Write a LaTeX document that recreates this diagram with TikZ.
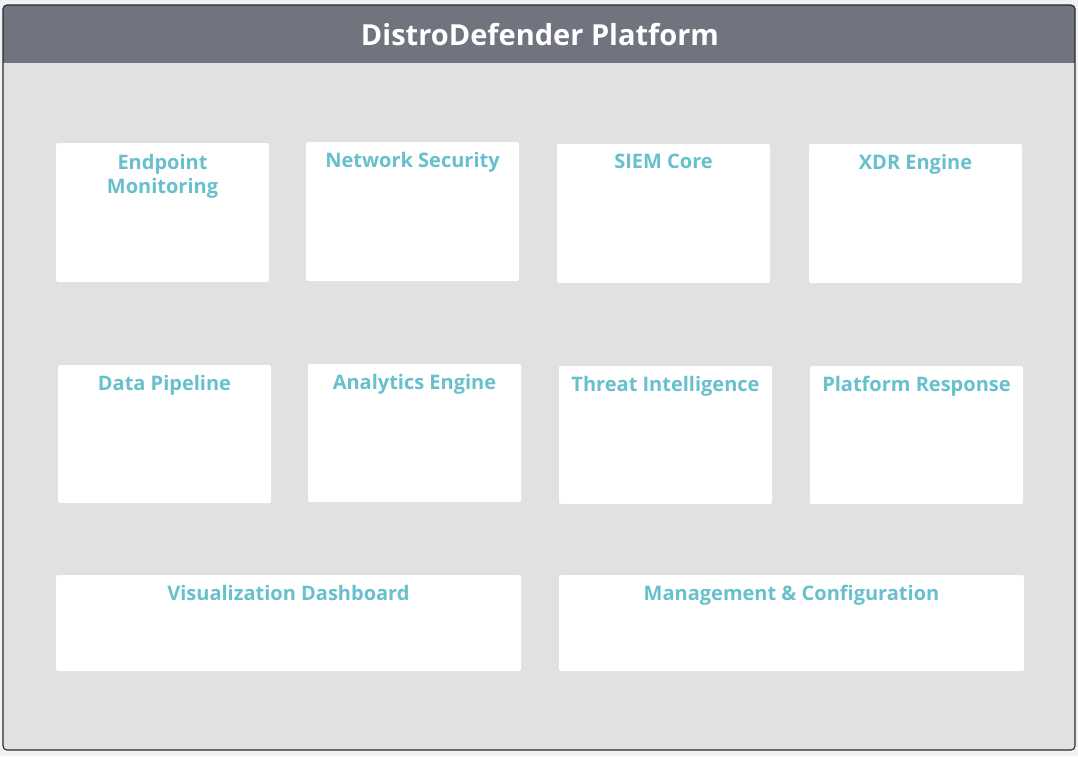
\documentclass[tikz,border=0pt]{standalone}
\usepackage{fontspec}
\setmainfont{Open Sans}
\definecolor{pagebg}{HTML}{F1F2F4}
\definecolor{bodybg}{HTML}{E1E1E1}
\definecolor{headbg}{HTML}{71747F}
\definecolor{framec}{HTML}{2A2A2A}
\definecolor{labelc}{HTML}{67C0CC}
\tikzset{
  panel/.style={fill=white, rounded corners=2pt, draw=none},
  paneltitle/.style={text=labelc, font=\bfseries\fontsize{20}{24.5}\selectfont, align=center, anchor=north, inner sep=0pt},
}
\begin{document}
\begin{tikzpicture}[x=1pt,y=-1pt]
  \useasboundingbox[fill=pagebg] (0,0) rectangle (1078,756);
  % outer frame
  \fill[bodybg, rounded corners=4pt] (3,5) rectangle (1075,750);
  \fill[headbg, rounded corners=4pt] (3,5) rectangle (1075,40);
  \fill[headbg] (3,30) rectangle (1075,63);
  \draw[framec, line width=1.1pt, rounded corners=4pt] (3,5) rectangle (1075,750);
  \node[text=white, font=\bfseries\fontsize{29}{34}\selectfont] (title) at (540,35) {DistroDefender Platform};

  % first row
  \fill[panel] (56,143) rectangle (269,282);
  \node[paneltitle] (epl) at (162.5,154) {Endpoint\\Monitoring};
  \fill[panel] (306,142) rectangle (519,281);
  \node[paneltitle] (nsl) at (412.5,152) {Network Security};
  \fill[panel] (557,144) rectangle (770,283);
  \node[paneltitle] (siem) at (663.5,154) {SIEM Core};
  \fill[panel] (809,144) rectangle (1022,283);
  \node[paneltitle] (xdr) at (915.5,154) {XDR Engine};

  % second row
  \fill[panel] (58,365) rectangle (271,503);
  \node[paneltitle] (dp) at (164.5,375) {Data Pipeline};
  \fill[panel] (308,364) rectangle (521,502);
  \node[paneltitle] (ae) at (414.5,374) {Analytics Engine};
  \fill[panel] (559,366) rectangle (772,504);
  \node[paneltitle] (ti) at (665.5,376) {Threat Intelligence};
  \fill[panel] (810,366) rectangle (1023,504);
  \node[paneltitle] (pr) at (916.5,376) {Platform Response};

  % third row
  \fill[panel] (56,575) rectangle (521,671);
  \node[paneltitle] (vd) at (288.5,585) {Visualization Dashboard};
  \fill[panel] (559,575) rectangle (1024,671);
  \node[paneltitle] (mc) at (791.5,585) {Management \& Configuration};
\end{tikzpicture}
\end{document}
